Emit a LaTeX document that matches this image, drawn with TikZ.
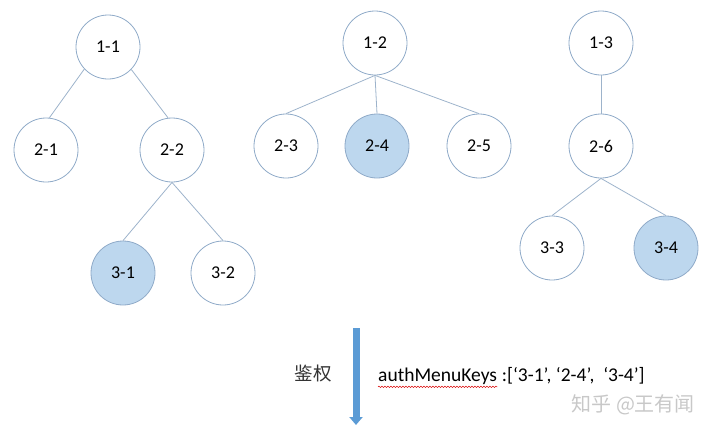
\documentclass[tikz,border=0pt]{standalone}
\usepackage{fontspec}
\setmainfont{Carlito}
\newfontfamily\cjk{Noto Sans CJK SC}
\usetikzlibrary{arrows.meta,decorations.pathmorphing}
\definecolor{ringc}{HTML}{8FAAC8}
\definecolor{edgec}{HTML}{9DB3CB}
\definecolor{hlfill}{HTML}{BDD7EE}
\definecolor{arrowc}{HTML}{5B9BD5}
\definecolor{wmc}{HTML}{C8C8C8}
\tikzset{
  menu/.style={circle, draw=ringc, line width=0.8pt, minimum size=64pt, inner sep=0pt, font=\fontsize{18}{18}\selectfont, fill=white},
  chosen/.style={menu, fill=hlfill},
  link/.style={draw=edgec, line width=0.8pt},
  authArrow/.style={draw=arrowc, line width=7pt, -{Triangle[width=13pt,length=8pt]}},
  squiggle/.style={draw=red!85!black, line width=0.5pt, decorate, decoration={snake, amplitude=0.7pt, segment length=3pt}}
}
\begin{document}
\begin{tikzpicture}[x=1pt,y=-1pt]
\useasboundingbox (0,0) rectangle (720,434);
% tree 1
\node[menu] (n11) at (108,47) {1-1};
\node[menu] (n21) at (46,150) {2-1};
\node[menu] (n22) at (172,150) {2-2};
\node[chosen] (n31) at (123,273) {3-1};
\node[menu] (n32) at (223,273) {3-2};
\draw[link] (n11.223) -- (n21.84);
\draw[link] (n11.316) -- (n22.97);
\draw[link] (n22.south) -- (n31.north);
\draw[link] (n22.south) -- (n32.north);
% tree 2
\node[menu] (n12) at (375,43) {1-2};
\node[menu] (n23) at (286,146) {2-3};
\node[chosen] (n24) at (377,146) {2-4};
\node[menu] (n25) at (479,146) {2-5};
\draw[link] (n12.south) -- (n23.north);
\draw[link] (n12.south) -- (n24.north);
\draw[link] (n12.south) -- (n25.north);
% tree 3
\node[menu] (n13) at (601,43) {1-3};
\node[menu] (n26) at (601,146) {2-6};
\node[menu] (n33) at (552,248) {3-3};
\node[chosen] (n34) at (666,248) {3-4};
\draw[link] (n13.south) -- (n26.north);
\draw[link] (n26.south) -- (n33.north);
\draw[link] (n26.south) -- (n34.north);
% arrow
\coordinate (atop) at (356,328);
\coordinate (abot) at (356,425);
\draw[authArrow] (atop) -- (abot);
\node[font=\cjk\fontsize{18.5}{18.5}\selectfont, text=black!80] (jq) at (313,374) {鉴权};
\node[anchor=base west, inner sep=0pt, font=\fontsize{19.5}{19.5}\selectfont] (am) at (378,381) {authMenuKeys};
\node[anchor=base west, inner sep=0pt, font=\fontsize{19.5}{19.5}\selectfont] (rest) at (am.base east) {\ :[‘3-1’, ‘2-4’, \ ‘3-4’]};
\coordinate (ulA) at ([yshift=-2.5pt]am.south west);
\coordinate (ulB) at ([yshift=-2.5pt]am.south east);
\draw[squiggle] (ulA) -- (ulB);
\node[anchor=west, font=\cjk\fontsize{20}{20}\selectfont, text=wmc] (wm) at (568,405) {知乎 @王有闻};
\end{tikzpicture}
\end{document}
